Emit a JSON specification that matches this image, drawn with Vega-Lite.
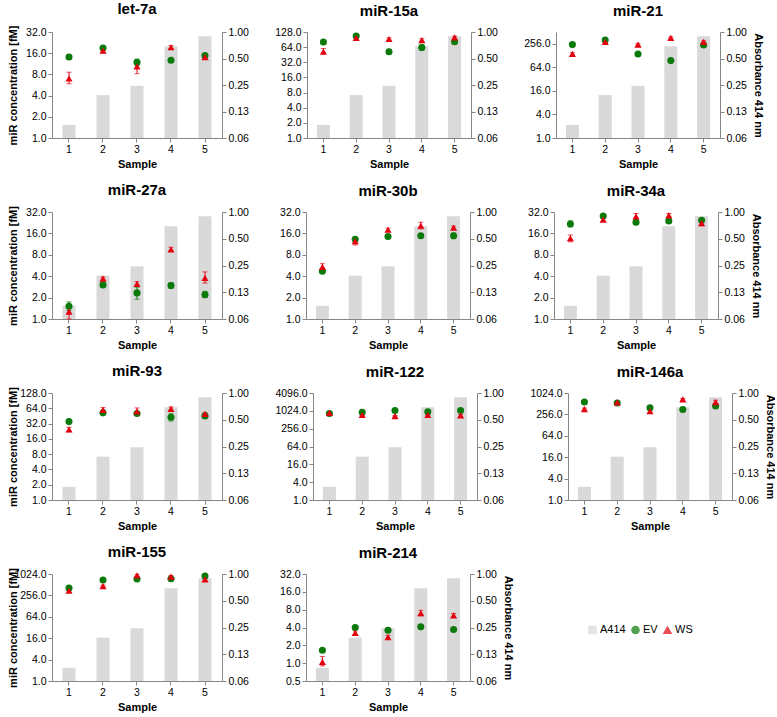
{
"$schema": "https://vega.github.io/schema/vega-lite/v6.json",
"datasets": {
"bars": [
{"sample":1,"series":"A414","a414":0.088},
{"sample":2,"series":"A414","a414":0.192},
{"sample":3,"series":"A414","a414":0.245},
{"sample":4,"series":"A414","a414":0.69},
{"sample":5,"series":"A414","a414":0.895}
],
"pts": [
{"mir":"let-7a","sample":1,"series":"EV","value":14.1,"lo":13.3,"hi":14.9},
{"mir":"let-7a","sample":2,"series":"EV","value":19,"lo":18,"hi":20},
{"mir":"let-7a","sample":3,"series":"EV","value":11.9,"lo":10.6,"hi":13.2},
{"mir":"let-7a","sample":4,"series":"EV","value":12.7,"lo":12.3,"hi":13.1},
{"mir":"let-7a","sample":5,"series":"EV","value":14.8,"lo":14.0,"hi":15.6},
{"mir":"let-7a","sample":1,"series":"WS","value":7.0,"lo":5.9,"hi":8.6},
{"mir":"let-7a","sample":2,"series":"WS","value":17.4,"lo":16.2,"hi":18.6},
{"mir":"let-7a","sample":3,"series":"WS","value":10.4,"lo":8.2,"hi":11.9},
{"mir":"let-7a","sample":4,"series":"WS","value":19.4,"lo":18.2,"hi":20.6},
{"mir":"let-7a","sample":5,"series":"WS","value":14.1,"lo":13.3,"hi":14.9},
{"mir":"miR-15a","sample":1,"series":"EV","value":81,"lo":77,"hi":85},
{"mir":"miR-15a","sample":2,"series":"EV","value":107,"lo":101,"hi":113},
{"mir":"miR-15a","sample":3,"series":"EV","value":52,"lo":47,"hi":58},
{"mir":"miR-15a","sample":4,"series":"EV","value":63,"lo":55,"hi":72},
{"mir":"miR-15a","sample":5,"series":"EV","value":82,"lo":78,"hi":86},
{"mir":"miR-15a","sample":1,"series":"WS","value":52,"lo":49,"hi":60},
{"mir":"miR-15a","sample":2,"series":"WS","value":97.6,"lo":92,"hi":103},
{"mir":"miR-15a","sample":3,"series":"WS","value":93,"lo":88,"hi":98},
{"mir":"miR-15a","sample":4,"series":"WS","value":88,"lo":82,"hi":94},
{"mir":"miR-15a","sample":5,"series":"WS","value":100,"lo":94,"hi":106},
{"mir":"miR-21","sample":1,"series":"EV","value":244,"lo":232,"hi":256},
{"mir":"miR-21","sample":2,"series":"EV","value":321,"lo":305,"hi":337},
{"mir":"miR-21","sample":3,"series":"EV","value":141,"lo":134,"hi":148},
{"mir":"miR-21","sample":4,"series":"EV","value":95,"lo":90,"hi":100},
{"mir":"miR-21","sample":5,"series":"EV","value":239,"lo":227,"hi":251},
{"mir":"miR-21","sample":1,"series":"WS","value":141,"lo":130,"hi":152},
{"mir":"miR-21","sample":2,"series":"WS","value":286,"lo":270,"hi":302},
{"mir":"miR-21","sample":3,"series":"WS","value":244,"lo":230,"hi":258},
{"mir":"miR-21","sample":4,"series":"WS","value":362,"lo":340,"hi":384},
{"mir":"miR-21","sample":5,"series":"WS","value":286,"lo":265,"hi":305},
{"mir":"miR-27a","sample":1,"series":"EV","value":1.51,"lo":1.32,"hi":1.74},
{"mir":"miR-27a","sample":2,"series":"EV","value":3.02,"lo":2.85,"hi":3.2},
{"mir":"miR-27a","sample":3,"series":"EV","value":2.33,"lo":1.9,"hi":2.8},
{"mir":"miR-27a","sample":4,"series":"EV","value":2.95,"lo":2.7,"hi":3.25},
{"mir":"miR-27a","sample":5,"series":"EV","value":2.2,"lo":2.0,"hi":2.45},
{"mir":"miR-27a","sample":1,"series":"WS","value":1.27,"lo":1.0,"hi":1.45},
{"mir":"miR-27a","sample":2,"series":"WS","value":3.7,"lo":3.5,"hi":3.9},
{"mir":"miR-27a","sample":3,"series":"WS","value":3.12,"lo":2.9,"hi":3.35},
{"mir":"miR-27a","sample":4,"series":"WS","value":9.5,"lo":9.0,"hi":10.2},
{"mir":"miR-27a","sample":5,"series":"WS","value":3.79,"lo":3.2,"hi":4.6},
{"mir":"miR-30b","sample":1,"series":"EV","value":4.7,"lo":4.5,"hi":4.95},
{"mir":"miR-30b","sample":2,"series":"EV","value":13.2,"lo":12.5,"hi":14},
{"mir":"miR-30b","sample":3,"series":"EV","value":14.5,"lo":13.8,"hi":15.2},
{"mir":"miR-30b","sample":4,"series":"EV","value":14.8,"lo":14.1,"hi":15.5},
{"mir":"miR-30b","sample":5,"series":"EV","value":14.8,"lo":13.5,"hi":16.2},
{"mir":"miR-30b","sample":1,"series":"WS","value":5.4,"lo":4.9,"hi":6.0},
{"mir":"miR-30b","sample":2,"series":"WS","value":12.4,"lo":11.0,"hi":13.6},
{"mir":"miR-30b","sample":3,"series":"WS","value":18.0,"lo":17,"hi":19},
{"mir":"miR-30b","sample":4,"series":"WS","value":20.5,"lo":18.5,"hi":23},
{"mir":"miR-30b","sample":5,"series":"WS","value":19.3,"lo":18.3,"hi":20.3},
{"mir":"miR-34a","sample":1,"series":"EV","value":21.7,"lo":19.8,"hi":24},
{"mir":"miR-34a","sample":2,"series":"EV","value":28.1,"lo":26.8,"hi":29.5},
{"mir":"miR-34a","sample":3,"series":"EV","value":22.9,"lo":21.8,"hi":24},
{"mir":"miR-34a","sample":4,"series":"EV","value":23.9,"lo":22.8,"hi":25},
{"mir":"miR-34a","sample":5,"series":"EV","value":24.5,"lo":23.3,"hi":25.7},
{"mir":"miR-34a","sample":1,"series":"WS","value":13.7,"lo":12.2,"hi":15.2},
{"mir":"miR-34a","sample":2,"series":"WS","value":25,"lo":23.8,"hi":26.2},
{"mir":"miR-34a","sample":3,"series":"WS","value":27.8,"lo":25.5,"hi":30.5},
{"mir":"miR-34a","sample":4,"series":"WS","value":28.7,"lo":27,"hi":30.5},
{"mir":"miR-34a","sample":5,"series":"WS","value":22.3,"lo":20.5,"hi":24},
{"mir":"miR-93","sample":1,"series":"EV","value":35,"lo":33,"hi":37},
{"mir":"miR-93","sample":2,"series":"EV","value":52,"lo":49,"hi":55},
{"mir":"miR-93","sample":3,"series":"EV","value":50.5,"lo":48,"hi":53},
{"mir":"miR-93","sample":4,"series":"EV","value":42.7,"lo":36,"hi":50},
{"mir":"miR-93","sample":5,"series":"EV","value":45.3,"lo":43,"hi":48},
{"mir":"miR-93","sample":1,"series":"WS","value":24.4,"lo":22,"hi":27},
{"mir":"miR-93","sample":2,"series":"WS","value":59.7,"lo":53,"hi":66},
{"mir":"miR-93","sample":3,"series":"WS","value":55.3,"lo":48,"hi":65},
{"mir":"miR-93","sample":4,"series":"WS","value":62.4,"lo":57,"hi":68},
{"mir":"miR-93","sample":5,"series":"WS","value":49.7,"lo":47,"hi":53},
{"mir":"miR-122","sample":1,"series":"EV","value":832,"lo":790,"hi":875},
{"mir":"miR-122","sample":2,"series":"EV","value":923,"lo":880,"hi":970},
{"mir":"miR-122","sample":3,"series":"EV","value":1050,"lo":1000,"hi":1100},
{"mir":"miR-122","sample":4,"series":"EV","value":948,"lo":900,"hi":1000},
{"mir":"miR-122","sample":5,"series":"EV","value":1050,"lo":1000,"hi":1100},
{"mir":"miR-122","sample":1,"series":"WS","value":874,"lo":780,"hi":960},
{"mir":"miR-122","sample":2,"series":"WS","value":749,"lo":710,"hi":790},
{"mir":"miR-122","sample":3,"series":"WS","value":676,"lo":640,"hi":715},
{"mir":"miR-122","sample":4,"series":"WS","value":749,"lo":700,"hi":800},
{"mir":"miR-122","sample":5,"series":"WS","value":710,"lo":660,"hi":760},
{"mir":"miR-146a","sample":1,"series":"EV","value":569,"lo":540,"hi":600},
{"mir":"miR-146a","sample":2,"series":"EV","value":534,"lo":505,"hi":565},
{"mir":"miR-146a","sample":3,"series":"EV","value":394,"lo":370,"hi":420},
{"mir":"miR-146a","sample":4,"series":"EV","value":352,"lo":335,"hi":370},
{"mir":"miR-146a","sample":5,"series":"EV","value":439,"lo":415,"hi":465},
{"mir":"miR-146a","sample":1,"series":"WS","value":361,"lo":340,"hi":385},
{"mir":"miR-146a","sample":2,"series":"WS","value":557,"lo":520,"hi":600},
{"mir":"miR-146a","sample":3,"series":"WS","value":317,"lo":295,"hi":340},
{"mir":"miR-146a","sample":4,"series":"WS","value":676,"lo":640,"hi":715},
{"mir":"miR-146a","sample":5,"series":"WS","value":569,"lo":510,"hi":640},
{"mir":"miR-155","sample":1,"series":"EV","value":411,"lo":390,"hi":435},
{"mir":"miR-155","sample":2,"series":"EV","value":694,"lo":655,"hi":735},
{"mir":"miR-155","sample":3,"series":"EV","value":739,"lo":700,"hi":780},
{"mir":"miR-155","sample":4,"series":"EV","value":755,"lo":715,"hi":795},
{"mir":"miR-155","sample":5,"series":"EV","value":898,"lo":850,"hi":950},
{"mir":"miR-155","sample":1,"series":"WS","value":345,"lo":320,"hi":370},
{"mir":"miR-155","sample":2,"series":"WS","value":468,"lo":440,"hi":500},
{"mir":"miR-155","sample":3,"series":"WS","value":936,"lo":870,"hi":1000},
{"mir":"miR-155","sample":4,"series":"WS","value":861,"lo":790,"hi":930},
{"mir":"miR-155","sample":5,"series":"WS","value":724,"lo":680,"hi":770},
{"mir":"miR-214","sample":1,"series":"EV","value":1.65,"lo":1.57,"hi":1.73},
{"mir":"miR-214","sample":2,"series":"EV","value":4.0,"lo":3.8,"hi":4.2},
{"mir":"miR-214","sample":3,"series":"EV","value":3.6,"lo":3.3,"hi":3.9},
{"mir":"miR-214","sample":4,"series":"EV","value":4.1,"lo":3.9,"hi":4.3},
{"mir":"miR-214","sample":5,"series":"EV","value":3.7,"lo":3.5,"hi":3.9},
{"mir":"miR-214","sample":1,"series":"WS","value":1.05,"lo":0.9,"hi":1.3},
{"mir":"miR-214","sample":2,"series":"WS","value":3.25,"lo":3.0,"hi":3.5},
{"mir":"miR-214","sample":3,"series":"WS","value":2.75,"lo":2.55,"hi":2.95},
{"mir":"miR-214","sample":4,"series":"WS","value":7.0,"lo":6.3,"hi":7.8},
{"mir":"miR-214","sample":5,"series":"WS","value":6.4,"lo":5.9,"hi":6.9}
]
},
"spacing": 12,
"vconcat": [
{"spacing": 22, "hconcat": [
{"title":"let-7a","width":170,"height":106,"layer":[
{"data":{"name":"bars"},"mark":{"type":"bar","width":13},"encoding":{"x":{"field":"sample","type":"ordinal","title":"Sample"},"y":{"field":"a414","type":"quantitative","scale":{"type":"log","base":2,"domain":[0.0625,1],"nice":false},"axis":{"orient":"right","values":[0.0625,0.125,0.25,0.5,1],"labelExpr":"datum.value < 0.1 ? '0.06' : format(datum.value, '.2f')","title":null,"minExtent":30,"maxExtent":30}},"y2":{"datum":0.0625},"color":{"field":"series","type":"nominal","title":null,"scale":{"domain":["A414","EV","WS"],"range":["#d9d9d9","#0b7a0b","#e3000f"]}}}},
{"data":{"name":"pts"},"transform":[{"filter":"datum.mir == 'let-7a'"}],"encoding":{"x":{"field":"sample","type":"ordinal"},"color":{"field":"series","type":"nominal","title":null}},"layer":[
{"mark":{"type":"errorbar","ticks":true,"size":5,"thickness":1},"encoding":{"y":{"field":"lo","type":"quantitative","scale":{"type":"log","base":2,"domain":[1,32],"nice":false},"axis":{"orient":"left","values":[1,2,4,8,16,32],"format":".1f","title":"miR concentration [fM]","minExtent":32,"maxExtent":32}},"y2":{"field":"hi"}}},
{"mark":{"type":"point","filled":true,"opacity":1,"size":50},"encoding":{"y":{"field":"value","type":"quantitative","scale":{"type":"log","base":2,"domain":[1,32],"nice":false},"axis":{"orient":"left","values":[1,2,4,8,16,32],"format":".1f","title":"miR concentration [fM]","minExtent":32,"maxExtent":32}},"shape":{"field":"series","type":"nominal","title":null,"scale":{"domain":["A414","EV","WS"],"range":["square","circle","triangle-up"]}}}}
]}
],"resolve":{"scale":{"y":"independent"}}},
{"title":"miR-15a","width":164,"height":106,"layer":[
{"data":{"name":"bars"},"mark":{"type":"bar","width":13},"encoding":{"x":{"field":"sample","type":"ordinal","title":"Sample"},"y":{"field":"a414","type":"quantitative","scale":{"type":"log","base":2,"domain":[0.0625,1],"nice":false},"axis":{"orient":"right","values":[0.0625,0.125,0.25,0.5,1],"labelExpr":"datum.value < 0.1 ? '0.06' : format(datum.value, '.2f')","title":null,"minExtent":30,"maxExtent":30}},"y2":{"datum":0.0625},"color":{"field":"series","type":"nominal","title":null}}},
{"data":{"name":"pts"},"transform":[{"filter":"datum.mir == 'miR-15a'"}],"encoding":{"x":{"field":"sample","type":"ordinal"},"color":{"field":"series","type":"nominal","title":null}},"layer":[
{"mark":{"type":"errorbar","ticks":true,"size":5,"thickness":1},"encoding":{"y":{"field":"lo","type":"quantitative","scale":{"type":"log","base":2,"domain":[1,128],"nice":false},"axis":{"orient":"left","values":[1,2,4,8,16,32,64,128],"format":".1f","title":null,"minExtent":32,"maxExtent":32}},"y2":{"field":"hi"}}},
{"mark":{"type":"point","filled":true,"opacity":1,"size":50},"encoding":{"y":{"field":"value","type":"quantitative","scale":{"type":"log","base":2,"domain":[1,128],"nice":false},"axis":{"orient":"left","values":[1,2,4,8,16,32,64,128],"format":".1f","title":null,"minExtent":32,"maxExtent":32}},"shape":{"field":"series","type":"nominal","title":null}}}
]}
],"resolve":{"scale":{"y":"independent"}}},
{"title":"miR-21","width":164,"height":106,"layer":[
{"data":{"name":"bars"},"mark":{"type":"bar","width":13},"encoding":{"x":{"field":"sample","type":"ordinal","title":"Sample"},"y":{"field":"a414","type":"quantitative","scale":{"type":"log","base":2,"domain":[0.0625,1],"nice":false},"axis":{"orient":"right","values":[0.0625,0.125,0.25,0.5,1],"labelExpr":"datum.value < 0.1 ? '0.06' : format(datum.value, '.2f')","title":"Absorbance 414 nm","minExtent":30,"maxExtent":30}},"y2":{"datum":0.0625},"color":{"field":"series","type":"nominal","title":null}}},
{"data":{"name":"pts"},"transform":[{"filter":"datum.mir == 'miR-21'"}],"encoding":{"x":{"field":"sample","type":"ordinal"},"color":{"field":"series","type":"nominal","title":null}},"layer":[
{"mark":{"type":"errorbar","ticks":true,"size":5,"thickness":1},"encoding":{"y":{"field":"lo","type":"quantitative","scale":{"type":"log","base":2,"domain":[1,512],"nice":false},"axis":{"orient":"left","values":[1,4,16,64,256],"format":".1f","title":null,"minExtent":32,"maxExtent":32}},"y2":{"field":"hi"}}},
{"mark":{"type":"point","filled":true,"opacity":1,"size":50},"encoding":{"y":{"field":"value","type":"quantitative","scale":{"type":"log","base":2,"domain":[1,512],"nice":false},"axis":{"orient":"left","values":[1,4,16,64,256],"format":".1f","title":null,"minExtent":32,"maxExtent":32}},"shape":{"field":"series","type":"nominal","title":null}}}
]}
],"resolve":{"scale":{"y":"independent"}}}
]},
{"spacing": 22, "hconcat": [
{"title":"miR-27a","width":170,"height":107,"layer":[
{"data":{"name":"bars"},"mark":{"type":"bar","width":13},"encoding":{"x":{"field":"sample","type":"ordinal","title":"Sample"},"y":{"field":"a414","type":"quantitative","scale":{"type":"log","base":2,"domain":[0.0625,1],"nice":false},"axis":{"orient":"right","values":[0.0625,0.125,0.25,0.5,1],"labelExpr":"datum.value < 0.1 ? '0.06' : format(datum.value, '.2f')","title":null,"minExtent":30,"maxExtent":30}},"y2":{"datum":0.0625},"color":{"field":"series","type":"nominal","title":null}}},
{"data":{"name":"pts"},"transform":[{"filter":"datum.mir == 'miR-27a'"}],"encoding":{"x":{"field":"sample","type":"ordinal"},"color":{"field":"series","type":"nominal","title":null}},"layer":[
{"mark":{"type":"errorbar","ticks":true,"size":5,"thickness":1},"encoding":{"y":{"field":"lo","type":"quantitative","scale":{"type":"log","base":2,"domain":[1,32],"nice":false},"axis":{"orient":"left","values":[1,2,4,8,16,32],"format":".1f","title":"miR concentration [fM]","minExtent":32,"maxExtent":32}},"y2":{"field":"hi"}}},
{"mark":{"type":"point","filled":true,"opacity":1,"size":50},"encoding":{"y":{"field":"value","type":"quantitative","scale":{"type":"log","base":2,"domain":[1,32],"nice":false},"axis":{"orient":"left","values":[1,2,4,8,16,32],"format":".1f","title":"miR concentration [fM]","minExtent":32,"maxExtent":32}},"shape":{"field":"series","type":"nominal","title":null}}}
]}
],"resolve":{"scale":{"y":"independent"}}},
{"title":"miR-30b","width":164,"height":107,"layer":[
{"data":{"name":"bars"},"mark":{"type":"bar","width":13},"encoding":{"x":{"field":"sample","type":"ordinal","title":"Sample"},"y":{"field":"a414","type":"quantitative","scale":{"type":"log","base":2,"domain":[0.0625,1],"nice":false},"axis":{"orient":"right","values":[0.0625,0.125,0.25,0.5,1],"labelExpr":"datum.value < 0.1 ? '0.06' : format(datum.value, '.2f')","title":null,"minExtent":30,"maxExtent":30}},"y2":{"datum":0.0625},"color":{"field":"series","type":"nominal","title":null}}},
{"data":{"name":"pts"},"transform":[{"filter":"datum.mir == 'miR-30b'"}],"encoding":{"x":{"field":"sample","type":"ordinal"},"color":{"field":"series","type":"nominal","title":null}},"layer":[
{"mark":{"type":"errorbar","ticks":true,"size":5,"thickness":1},"encoding":{"y":{"field":"lo","type":"quantitative","scale":{"type":"log","base":2,"domain":[1,32],"nice":false},"axis":{"orient":"left","values":[1,2,4,8,16,32],"format":".1f","title":null,"minExtent":32,"maxExtent":32}},"y2":{"field":"hi"}}},
{"mark":{"type":"point","filled":true,"opacity":1,"size":50},"encoding":{"y":{"field":"value","type":"quantitative","scale":{"type":"log","base":2,"domain":[1,32],"nice":false},"axis":{"orient":"left","values":[1,2,4,8,16,32],"format":".1f","title":null,"minExtent":32,"maxExtent":32}},"shape":{"field":"series","type":"nominal","title":null}}}
]}
],"resolve":{"scale":{"y":"independent"}}},
{"title":"miR-34a","width":164,"height":107,"layer":[
{"data":{"name":"bars"},"mark":{"type":"bar","width":13},"encoding":{"x":{"field":"sample","type":"ordinal","title":"Sample"},"y":{"field":"a414","type":"quantitative","scale":{"type":"log","base":2,"domain":[0.0625,1],"nice":false},"axis":{"orient":"right","values":[0.0625,0.125,0.25,0.5,1],"labelExpr":"datum.value < 0.1 ? '0.06' : format(datum.value, '.2f')","title":"Absorbance 414 nm","minExtent":30,"maxExtent":30}},"y2":{"datum":0.0625},"color":{"field":"series","type":"nominal","title":null}}},
{"data":{"name":"pts"},"transform":[{"filter":"datum.mir == 'miR-34a'"}],"encoding":{"x":{"field":"sample","type":"ordinal"},"color":{"field":"series","type":"nominal","title":null}},"layer":[
{"mark":{"type":"errorbar","ticks":true,"size":5,"thickness":1},"encoding":{"y":{"field":"lo","type":"quantitative","scale":{"type":"log","base":2,"domain":[1,32],"nice":false},"axis":{"orient":"left","values":[1,2,4,8,16,32],"format":".1f","title":null,"minExtent":32,"maxExtent":32}},"y2":{"field":"hi"}}},
{"mark":{"type":"point","filled":true,"opacity":1,"size":50},"encoding":{"y":{"field":"value","type":"quantitative","scale":{"type":"log","base":2,"domain":[1,32],"nice":false},"axis":{"orient":"left","values":[1,2,4,8,16,32],"format":".1f","title":null,"minExtent":32,"maxExtent":32}},"shape":{"field":"series","type":"nominal","title":null}}}
]}
],"resolve":{"scale":{"y":"independent"}}}
]},
{"spacing": 22, "hconcat": [
{"title":"miR-93","width":170,"height":107,"layer":[
{"data":{"name":"bars"},"mark":{"type":"bar","width":13},"encoding":{"x":{"field":"sample","type":"ordinal","title":"Sample"},"y":{"field":"a414","type":"quantitative","scale":{"type":"log","base":2,"domain":[0.0625,1],"nice":false},"axis":{"orient":"right","values":[0.0625,0.125,0.25,0.5,1],"labelExpr":"datum.value < 0.1 ? '0.06' : format(datum.value, '.2f')","title":null,"minExtent":30,"maxExtent":30}},"y2":{"datum":0.0625},"color":{"field":"series","type":"nominal","title":null}}},
{"data":{"name":"pts"},"transform":[{"filter":"datum.mir == 'miR-93'"}],"encoding":{"x":{"field":"sample","type":"ordinal"},"color":{"field":"series","type":"nominal","title":null}},"layer":[
{"mark":{"type":"errorbar","ticks":true,"size":5,"thickness":1},"encoding":{"y":{"field":"lo","type":"quantitative","scale":{"type":"log","base":2,"domain":[1,128],"nice":false},"axis":{"orient":"left","values":[1,2,4,8,16,32,64,128],"format":".1f","title":"miR concentration [fM]","minExtent":32,"maxExtent":32}},"y2":{"field":"hi"}}},
{"mark":{"type":"point","filled":true,"opacity":1,"size":50},"encoding":{"y":{"field":"value","type":"quantitative","scale":{"type":"log","base":2,"domain":[1,128],"nice":false},"axis":{"orient":"left","values":[1,2,4,8,16,32,64,128],"format":".1f","title":"miR concentration [fM]","minExtent":32,"maxExtent":32}},"shape":{"field":"series","type":"nominal","title":null}}}
]}
],"resolve":{"scale":{"y":"independent"}}},
{"title":"miR-122","width":164,"height":107,"layer":[
{"data":{"name":"bars"},"mark":{"type":"bar","width":13},"encoding":{"x":{"field":"sample","type":"ordinal","title":"Sample"},"y":{"field":"a414","type":"quantitative","scale":{"type":"log","base":2,"domain":[0.0625,1],"nice":false},"axis":{"orient":"right","values":[0.0625,0.125,0.25,0.5,1],"labelExpr":"datum.value < 0.1 ? '0.06' : format(datum.value, '.2f')","title":null,"minExtent":30,"maxExtent":30}},"y2":{"datum":0.0625},"color":{"field":"series","type":"nominal","title":null}}},
{"data":{"name":"pts"},"transform":[{"filter":"datum.mir == 'miR-122'"}],"encoding":{"x":{"field":"sample","type":"ordinal"},"color":{"field":"series","type":"nominal","title":null}},"layer":[
{"mark":{"type":"errorbar","ticks":true,"size":5,"thickness":1},"encoding":{"y":{"field":"lo","type":"quantitative","scale":{"type":"log","base":2,"domain":[1,4096],"nice":false},"axis":{"orient":"left","values":[1,4,16,64,256,1024,4096],"format":".1f","title":null,"minExtent":32,"maxExtent":32}},"y2":{"field":"hi"}}},
{"mark":{"type":"point","filled":true,"opacity":1,"size":50},"encoding":{"y":{"field":"value","type":"quantitative","scale":{"type":"log","base":2,"domain":[1,4096],"nice":false},"axis":{"orient":"left","values":[1,4,16,64,256,1024,4096],"format":".1f","title":null,"minExtent":32,"maxExtent":32}},"shape":{"field":"series","type":"nominal","title":null}}}
]}
],"resolve":{"scale":{"y":"independent"}}},
{"title":"miR-146a","width":164,"height":107,"layer":[
{"data":{"name":"bars"},"mark":{"type":"bar","width":13},"encoding":{"x":{"field":"sample","type":"ordinal","title":"Sample"},"y":{"field":"a414","type":"quantitative","scale":{"type":"log","base":2,"domain":[0.0625,1],"nice":false},"axis":{"orient":"right","values":[0.0625,0.125,0.25,0.5,1],"labelExpr":"datum.value < 0.1 ? '0.06' : format(datum.value, '.2f')","title":"Absorbance 414 nm","minExtent":30,"maxExtent":30}},"y2":{"datum":0.0625},"color":{"field":"series","type":"nominal","title":null}}},
{"data":{"name":"pts"},"transform":[{"filter":"datum.mir == 'miR-146a'"}],"encoding":{"x":{"field":"sample","type":"ordinal"},"color":{"field":"series","type":"nominal","title":null}},"layer":[
{"mark":{"type":"errorbar","ticks":true,"size":5,"thickness":1},"encoding":{"y":{"field":"lo","type":"quantitative","scale":{"type":"log","base":2,"domain":[1,1024],"nice":false},"axis":{"orient":"left","values":[1,4,16,64,256,1024],"format":".1f","title":null,"minExtent":32,"maxExtent":32}},"y2":{"field":"hi"}}},
{"mark":{"type":"point","filled":true,"opacity":1,"size":50},"encoding":{"y":{"field":"value","type":"quantitative","scale":{"type":"log","base":2,"domain":[1,1024],"nice":false},"axis":{"orient":"left","values":[1,4,16,64,256,1024],"format":".1f","title":null,"minExtent":32,"maxExtent":32}},"shape":{"field":"series","type":"nominal","title":null}}}
]}
],"resolve":{"scale":{"y":"independent"}}}
]},
{"spacing": 22, "hconcat": [
{"title":"miR-155","width":170,"height":107,"layer":[
{"data":{"name":"bars"},"mark":{"type":"bar","width":13},"encoding":{"x":{"field":"sample","type":"ordinal","title":"Sample"},"y":{"field":"a414","type":"quantitative","scale":{"type":"log","base":2,"domain":[0.0625,1],"nice":false},"axis":{"orient":"right","values":[0.0625,0.125,0.25,0.5,1],"labelExpr":"datum.value < 0.1 ? '0.06' : format(datum.value, '.2f')","title":null,"minExtent":30,"maxExtent":30}},"y2":{"datum":0.0625},"color":{"field":"series","type":"nominal","title":null}}},
{"data":{"name":"pts"},"transform":[{"filter":"datum.mir == 'miR-155'"}],"encoding":{"x":{"field":"sample","type":"ordinal"},"color":{"field":"series","type":"nominal","title":null}},"layer":[
{"mark":{"type":"errorbar","ticks":true,"size":5,"thickness":1},"encoding":{"y":{"field":"lo","type":"quantitative","scale":{"type":"log","base":2,"domain":[1,1024],"nice":false},"axis":{"orient":"left","values":[1,4,16,64,256,1024],"format":".1f","title":"miR concentration [fM]","minExtent":32,"maxExtent":32}},"y2":{"field":"hi"}}},
{"mark":{"type":"point","filled":true,"opacity":1,"size":50},"encoding":{"y":{"field":"value","type":"quantitative","scale":{"type":"log","base":2,"domain":[1,1024],"nice":false},"axis":{"orient":"left","values":[1,4,16,64,256,1024],"format":".1f","title":"miR concentration [fM]","minExtent":32,"maxExtent":32}},"shape":{"field":"series","type":"nominal","title":null}}}
]}
],"resolve":{"scale":{"y":"independent"}}},
{"title":"miR-214","width":164,"height":107,"layer":[
{"data":{"name":"bars"},"mark":{"type":"bar","width":13},"encoding":{"x":{"field":"sample","type":"ordinal","title":"Sample"},"y":{"field":"a414","type":"quantitative","scale":{"type":"log","base":2,"domain":[0.0625,1],"nice":false},"axis":{"orient":"right","values":[0.0625,0.125,0.25,0.5,1],"labelExpr":"datum.value < 0.1 ? '0.06' : format(datum.value, '.2f')","title":"Absorbance 414 nm","minExtent":30,"maxExtent":30}},"y2":{"datum":0.0625},"color":{"field":"series","type":"nominal","title":null}}},
{"data":{"name":"pts"},"transform":[{"filter":"datum.mir == 'miR-214'"}],"encoding":{"x":{"field":"sample","type":"ordinal"},"color":{"field":"series","type":"nominal","title":null}},"layer":[
{"mark":{"type":"errorbar","ticks":true,"size":5,"thickness":1},"encoding":{"y":{"field":"lo","type":"quantitative","scale":{"type":"log","base":2,"domain":[0.5,32],"nice":false},"axis":{"orient":"left","values":[0.5,1,2,4,8,16,32],"format":".1f","title":null,"minExtent":32,"maxExtent":32}},"y2":{"field":"hi"}}},
{"mark":{"type":"point","filled":true,"opacity":1,"size":50},"encoding":{"y":{"field":"value","type":"quantitative","scale":{"type":"log","base":2,"domain":[0.5,32],"nice":false},"axis":{"orient":"left","values":[0.5,1,2,4,8,16,32],"format":".1f","title":null,"minExtent":32,"maxExtent":32}},"shape":{"field":"series","type":"nominal","title":null}}}
]}
],"resolve":{"scale":{"y":"independent"}}}
]}
],
"config": {
"font": "Liberation Sans",
"padding": {"left": 6, "top": 2, "right": 0, "bottom": 3},
"view": {"stroke": null},
"axis": {"domainColor": "#868686", "tickColor": "#868686", "labelColor": "#000000", "labelFontSize": 10.5, "titleFontSize": 11, "titleFontWeight": "bold", "titleColor": "#000000", "grid": false, "tickSize": 4, "labelPadding": 2, "titlePadding": 2},
"axisX": {"labelAngle": 0, "titlePadding": 4},
"title": {"fontSize": 15, "fontWeight": "bold", "offset": 8, "color": "#000000"},
"legend": {"orient": "none", "legendX": 535, "legendY": 592, "direction": "horizontal", "columns": 3, "labelFontSize": 11, "symbolSize": 50, "columnPadding": 2, "labelOffset": 2}
}
}
